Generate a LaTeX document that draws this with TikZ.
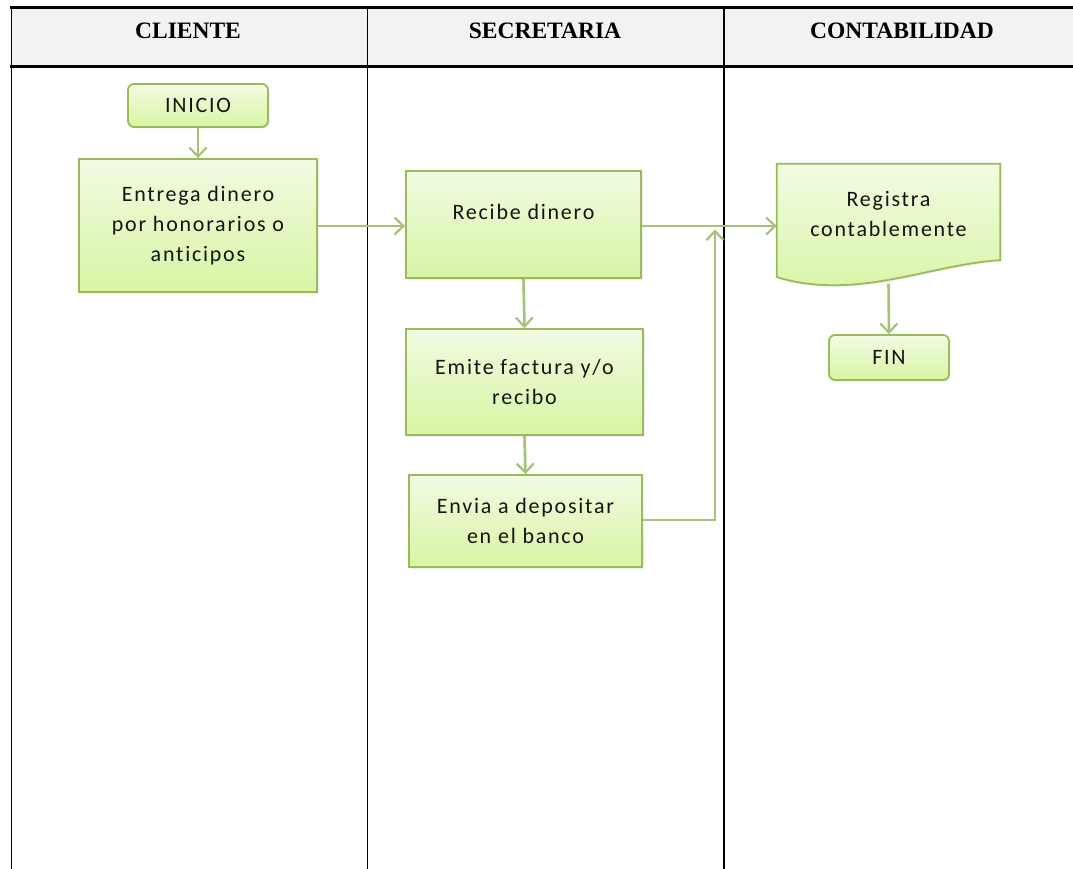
\documentclass[tikz,border=0pt]{standalone}
\usepackage{fontspec}
\setmainfont{Carlito}
\newfontfamily\headfont{Liberation Serif}
\newfontfamily\boxfont[LetterSpace=8,Ligatures={NoCommon}]{Carlito}
\usetikzlibrary{arrows.meta,shadows}

\definecolor{boxline}{HTML}{9BBB59}
\definecolor{flowline}{HTML}{A5C278}
\definecolor{boxtop}{HTML}{F1FBE2}
\definecolor{boxbottom}{HTML}{D8F5A4}
\definecolor{headfill}{HTML}{F2F2F2}
\definecolor{boxtext}{HTML}{141414}

\tikzset{
  x=1pt, y=-1pt,
  procbox/.style={draw=boxline, line width=1.8pt, top color=boxtop, bottom color=boxbottom,
    drop shadow={opacity=0.12, shadow xshift=1.5pt, shadow yshift=-1.5pt},
    inner sep=0pt, align=center, text=boxtext,
    font=\boxfont\fontsize{22}{30}\selectfont},
  termbox/.style={procbox, rounded corners=6pt},
  plain/.style={inner sep=0pt, align=center, text=boxtext,
    font=\boxfont\fontsize{22}{30}\selectfont},
  flow/.style={draw=flowline, line width=2.6pt,
    -{Straight Barb[length=9pt,width=17pt,line width=2.2pt]}},
  header/.style={font=\headfont\bfseries\fontsize{23.5}{28}\selectfont, inner sep=0pt},
  thickrule/.style={line width=2.6pt, line cap=rect},
  thinrule/.style={line width=1.3pt}
}

\begin{document}
\begin{tikzpicture}
\useasboundingbox (0,0) rectangle (1073,869);

% table header band and rules
\fill[headfill] (11,7) rectangle (1075,66.5);
\draw[thinrule] (11.3,7) -- (11.3,870);
\draw[thinrule] (367.3,7) -- (367.3,870);
\draw[line width=2.2pt] (724,7) -- (724,870);
\draw[thickrule] (11,7.3) -- (1075,7.3);
\draw[thickrule] (11,66.7) -- (1075,66.7);

\node[header] (hcli) at (188,31) {CLIENTE};
\node[header] (hsec) at (545,31) {SECRETARIA};
\node[header] (hcon) at (902,31) {CONTABILIDAD};

% process shapes
\node[termbox, minimum width=140pt, minimum height=43pt] (inicio) at (198,105.5) {INICIO};
\node[procbox, minimum width=238pt, minimum height=133pt] (entrega) at (198,225.5)
  {Entrega dinero\\por honorarios o\\anticipos};
\node[procbox, minimum width=235pt, minimum height=107pt] (recibe) at (523.5,224.5) {};
\node[plain] (recibetxt) at (523.5,212) {Recibe dinero};
\node[procbox, minimum width=237pt, minimum height=106pt] (emite) at (524.5,382)
  {Emite factura y/o\\recibo};
\node[procbox, minimum width=233pt, minimum height=92pt] (envia) at (525.5,521)
  {Envia a depositar\\en el banco};

% document shape for the accounting record
\node[minimum width=223pt, minimum height=113pt, inner sep=0pt] (registra) at (888.5,220.5) {};
\draw[draw=boxline, line width=1.8pt, top color=boxtop, bottom color=boxbottom,
      drop shadow={opacity=0.12, shadow xshift=1.5pt, shadow yshift=-1.5pt}]
  (registra.north west) -- (registra.north east) -- ([yshift=17pt]registra.south east)
  .. controls +(-70,4) and +(80,24) .. (registra.south west) -- cycle;
\node[plain] (registratxt) at (888.5,214) {Registra\\contablemente};

\node[termbox, minimum width=120pt, minimum height=45pt] (fin) at (889,357.5) {FIN};

% connectors
\coordinate (junction) at (715,0);
\draw[flow] (entrega.east |- 0,226) -- (recibe.west |- 0,226);
\draw[flow] (inicio.south) -- (entrega.north);
\draw[flow] (recibe.east |- 0,226) -- (registra.west |- 0,226);
\draw[flow] (recibe.south) -- (emite.north);
\draw[flow] (emite.south) -- (envia.north);
\draw[flow] (envia.east |- 0,520) -| ([yshift=-5pt]junction |- recibe.east);
\draw[flow] ([yshift=-7pt]registra.south) -- (fin.north);
\end{tikzpicture}
\end{document}
